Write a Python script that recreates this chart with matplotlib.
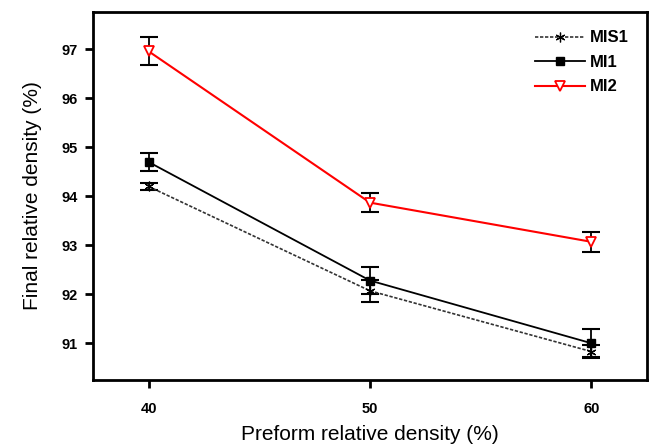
import matplotlib.pyplot as plt

plt.rcParams['font.family'] = ['Liberation Sans', 'DejaVu Sans']

# data
density = [40, 50, 60]
mis1 = [94.20, 92.07, 90.83]
mis1_err = [0.08, 0.22, 0.13]
mi1 = [94.70, 92.28, 91.00]
mi1_err = [0.19, 0.28, 0.29]
mi2 = [96.96, 93.87, 93.07]
mi2_err = [0.29, 0.19, 0.21]

fig = plt.figure(figsize=(6.56, 4.46), dpi=100)
ax = fig.add_axes([0.142, 0.148, 0.844, 0.825])

# error bars first (black caps for every series)
for y, e in [(mis1, mis1_err), (mi1, mi1_err), (mi2, mi2_err)]:
    ax.errorbar(density, y, yerr=e, fmt='none', ecolor='black',
                elinewidth=1.3, capsize=6.5, capthick=1.5, zorder=2)

ax.plot(density, mis1, color='#333333', linestyle=(0, (2, 1)), linewidth=1.2,
        marker=(6, 2, 0), markersize=7, markeredgecolor='black',
        markeredgewidth=0.9, label='MIS1', zorder=3)
ax.plot(density, mi1, color='black', linewidth=1.3,
        marker='s', markersize=5.5, markerfacecolor='black', label='MI1', zorder=3)
ax.plot(density, mi2, color='red', linewidth=1.5,
        marker='v', markersize=7, markerfacecolor='white',
        markeredgecolor='red', markeredgewidth=1.3, label='MI2', zorder=4)

ax.set_xlim(37.5, 62.5)
ax.set_ylim(90.25, 97.76)
ax.set_xticks(density)
ax.set_yticks([91, 92, 93, 94, 95, 96, 97])

for s in ax.spines.values():
    s.set_linewidth(2)
ax.tick_params(direction='out', width=2, length=6, labelsize=10.5)
ax.tick_params(axis='x', pad=10)
ax.tick_params(axis='y', pad=5)
for lbl in ax.get_xticklabels() + ax.get_yticklabels():
    lbl.set_fontweight('bold')

ax.set_xlabel('Preform relative density (%)', fontsize=15, labelpad=6)
ax.set_ylabel('Final relative density (%)', fontsize=15, labelpad=14)

leg = ax.legend(loc='upper right', frameon=False, fontsize=12,
                handlelength=3, handletextpad=0.3, labelspacing=0.57,
                borderaxespad=0.7)
for t in leg.get_texts():
    t.set_fontweight('bold')

fig.savefig('out.png', dpi=100)
